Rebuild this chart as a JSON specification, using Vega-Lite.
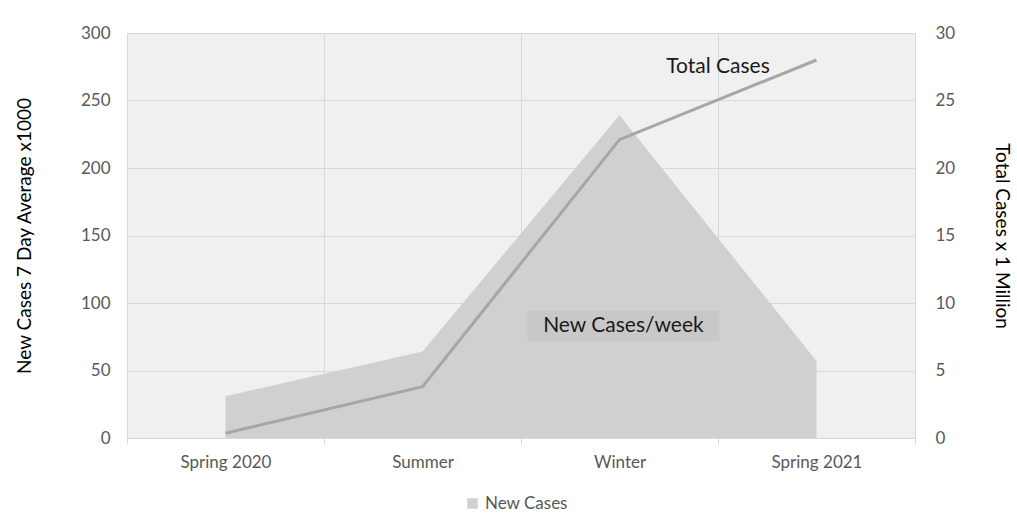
{
  "$schema": "https://vega.github.io/schema/vega-lite/v6.json",
  "width": 788,
  "height": 405,
  "autosize": {"type": "none"},
  "padding": {"left": 127, "top": 33, "right": 102, "bottom": 92},
  "background": "white",
  "config": {
    "font": "Lato",
    "view": {"fill": "#f0f0f0", "stroke": "#d9d9d9", "strokeWidth": 1},
    "axis": {"labelFont": "Lato", "titleFont": "Lato", "labelColor": "#595959", "labelFontSize": 17, "titleFontSize": 19, "titleFontWeight": "normal", "titleColor": "#000000"}
  },
  "datasets": {
    "cases": [
      {"period": "Spring 2020", "newCases": 31, "totalCases": 0.35},
      {"period": "Summer", "newCases": 64, "totalCases": 3.8},
      {"period": "Winter", "newCases": 239, "totalCases": 22.1},
      {"period": "Spring 2021", "newCases": 57, "totalCases": 28}
    ],
    "newLabel": [{"period": "Winter", "newCases": 83, "label": "New Cases/week"}],
    "totalLabel": [{"period": "Spring 2021", "totalCases": 27.5, "label": "Total Cases"}]
  },
  "layer": [
    {
      "layer": [
        {
          "data": {"name": "cases"},
          "mark": {"type": "area", "opacity": 1},
          "encoding": {
            "x": {"field": "period", "type": "ordinal", "bandPosition": 0.5,
              "sort": ["Spring 2020", "Summer", "Winter", "Spring 2021"],
              "scale": {"type": "band", "paddingInner": 0, "paddingOuter": 0, "domain": ["Spring 2020", "Summer", "Winter", "Spring 2021"]},
              "axis": {"title": null, "labelAngle": 0, "tickBand": "extent", "grid": true, "gridColor": "#d9d9d9", "domainColor": "#d9d9d9", "tickColor": "#d9d9d9", "tickSize": 6, "labelPadding": 10}},
            "y": {"field": "newCases", "type": "quantitative",
              "scale": {"domain": [0, 300], "nice": false},
              "axis": {"title": "New Cases 7 Day Average x1000", "values": [0, 50, 100, 150, 200, 250, 300], "ticks": false, "domain": false, "labelPadding": 17, "gridColor": "#d9d9d9", "titlePadding": 46}},
            "color": {"datum": "New Cases", "type": "nominal",
              "scale": {"range": ["#d0d0d0"]},
              "legend": {"title": null, "orient": "none", "legendX": 337, "legendY": 462, "symbolType": "square", "symbolSize": 110, "labelFontSize": 17, "labelColor": "#595959", "labelFont": "Lato", "symbolStrokeWidth": 0}}
          }
        },
        {
          "data": {"name": "newLabel"},
          "mark": {"type": "point", "shape": "M-3.2,-0.5H3.2V0.5H-3.2Z", "filled": true, "size": 3600, "color": "#c8c8c8", "opacity": 1, "strokeWidth": 0},
          "encoding": {
            "x": {"field": "period", "type": "ordinal", "bandPosition": 0.52, "sort": ["Spring 2020", "Summer", "Winter", "Spring 2021"]},
            "y": {"field": "newCases", "type": "quantitative"}
          }
        },
        {
          "data": {"name": "newLabel"},
          "mark": {"type": "text", "fontSize": 21, "color": "#1a1a1a", "align": "center", "baseline": "middle", "font": "Lato"},
          "encoding": {
            "x": {"field": "period", "type": "ordinal", "bandPosition": 0.52, "sort": ["Spring 2020", "Summer", "Winter", "Spring 2021"]},
            "y": {"field": "newCases", "type": "quantitative"},
            "text": {"field": "label"}
          }
        }
      ]
    },
    {
      "layer": [
        {
          "data": {"name": "cases"},
          "mark": {"type": "line", "color": "#a6a6a6", "strokeWidth": 3},
          "encoding": {
            "x": {"field": "period", "type": "ordinal", "bandPosition": 0.5, "sort": ["Spring 2020", "Summer", "Winter", "Spring 2021"]},
            "y": {"field": "totalCases", "type": "quantitative",
              "scale": {"domain": [0, 30], "nice": false},
              "axis": {"title": "Total Cases x 1 Million", "orient": "right", "values": [0, 5, 10, 15, 20, 25, 30], "ticks": false, "domain": false, "grid": false, "labelPadding": 20, "titlePadding": 37}}
          }
        },
        {
          "data": {"name": "totalLabel"},
          "mark": {"type": "text", "fontSize": 21, "color": "#1a1a1a", "align": "center", "baseline": "middle", "font": "Lato"},
          "encoding": {
            "x": {"field": "period", "type": "ordinal", "bandPosition": 0, "sort": ["Spring 2020", "Summer", "Winter", "Spring 2021"]},
            "y": {"field": "totalCases", "type": "quantitative"},
            "text": {"field": "label"}
          }
        }
      ]
    }
  ],
  "resolve": {"scale": {"y": "independent"}}
}
